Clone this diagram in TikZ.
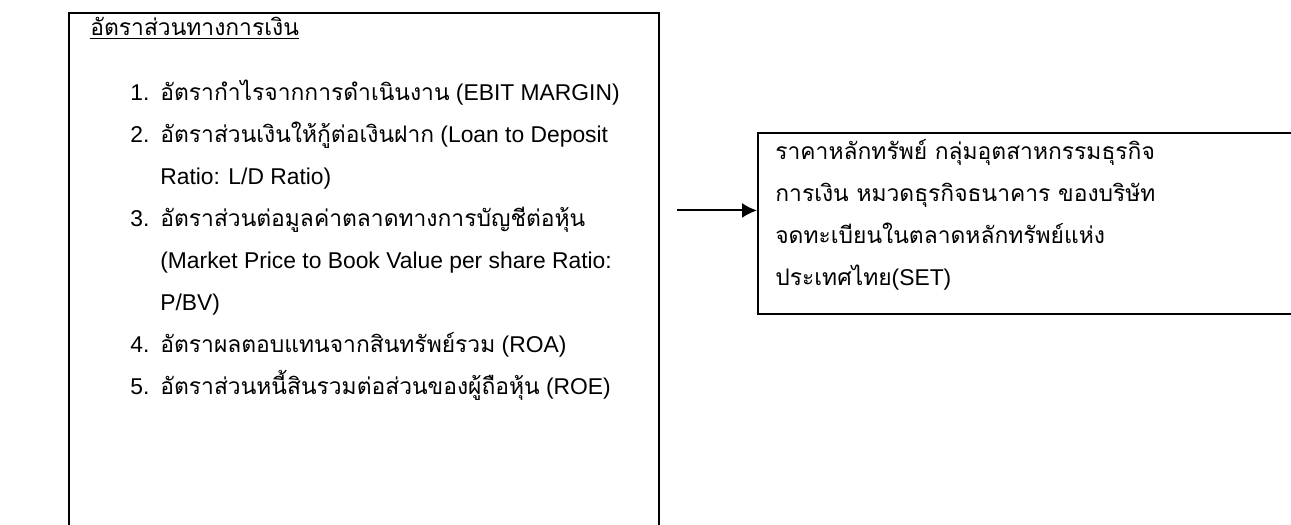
\documentclass[tikz,border=0pt]{standalone}
\usepackage{fontspec}
\setmainfont{Liberation Sans}
\newfontfamily\thaifont[Script=Thai]{Loma}
\usepackage{tikz}
\usetikzlibrary{arrows.meta}
\usetikzlibrary{positioning}
\newcommand{\tf}[1]{{\thaifont #1}}
\tikzset{box/.style = {draw, line width = 1.1pt, inner sep = 0}}
\tikzset{txt/.style = {anchor = west, inner sep = 0, text height = 1.6ex, text depth = .4ex,
                       font = \fontsize{13}{16}\selectfont}}
\tikzset{link/.style = {line width = 1.1pt, -{Latex[length = 8.5pt, width = 8.5pt]}}}

\begin{document}
\begin{tikzpicture}[x = 0.02cm, y = -0.02cm]
      \useasboundingbox (0, 0) rectangle (1291, 524);

      \node [box, anchor = north west, minimum width = 11.8cm, minimum height = 10.5cm] (ratios) at (68, 12) {};
      \node [box, anchor = north west, minimum width = 10.9cm, minimum height = 3.62cm] (set) at (757, 132) {};

      \node [txt] (title) at (90, 30) {\underline{\tf{อัตราส่วนทางการเงิน}}};

      \node [txt] (n1) at (130, 95) {1.};
      \node [txt] (n2) at (130, 137) {2.};
      \node [txt] (n3) at (130, 221) {3.};
      \node [txt] (n4) at (130, 347) {4.};
      \node [txt] (n5) at (130, 389) {5.};

      \node [txt] (r1) at (160, 95) {\tf{อัตรากำไรจากการดำเนินงาน} (EBIT MARGIN)};
      \node [txt] (r2) at (160, 137) {\tf{อัตราส่วนเงินให้กู้ต่อเงินฝาก} (Loan to Deposit};
      \node [txt] (r2b) at (160, 179) {Ratio: L/D Ratio)};
      \node [txt] (r3) at (160, 221) {\tf{อัตราส่วนต่อมูลค่าตลาดทางการบัญชีต่อหุ้น}};
      \node [txt] (r3b) at (160, 263) {(Market Price to Book Value per share Ratio:};
      \node [txt] (r3c) at (160, 305) {P/BV)};
      \node [txt] (r4) at (160, 347) {\tf{อัตราผลตอบแทนจากสินทรัพย์รวม} (ROA)};
      \node [txt] (r5) at (160, 389) {\tf{อัตราส่วนหนี้สินรวมต่อส่วนของผู้ถือหุ้น} (ROE)};

      \node [txt] (s1) at (775, 154) {\tf{ราคาหลักทรัพย์ กลุ่มอุตสาหกรรมธุรกิจ}};
      \node [txt] (s2) at (775, 196) {\tf{การเงิน หมวดธุรกิจธนาคาร ของบริษัท}};
      \node [txt] (s3) at (775, 238) {\tf{จดทะเบียนในตลาดหลักทรัพย์แห่ง}};
      \node [txt] (s4) at (775, 280) {\tf{ประเทศไทย}(SET)};

      \draw [link] ([xshift = 0.34cm, yshift = 0.26cm] ratios.east |- set.west) -- ([yshift = 0.26cm] set.west);
    \end{tikzpicture}
\end{document}
